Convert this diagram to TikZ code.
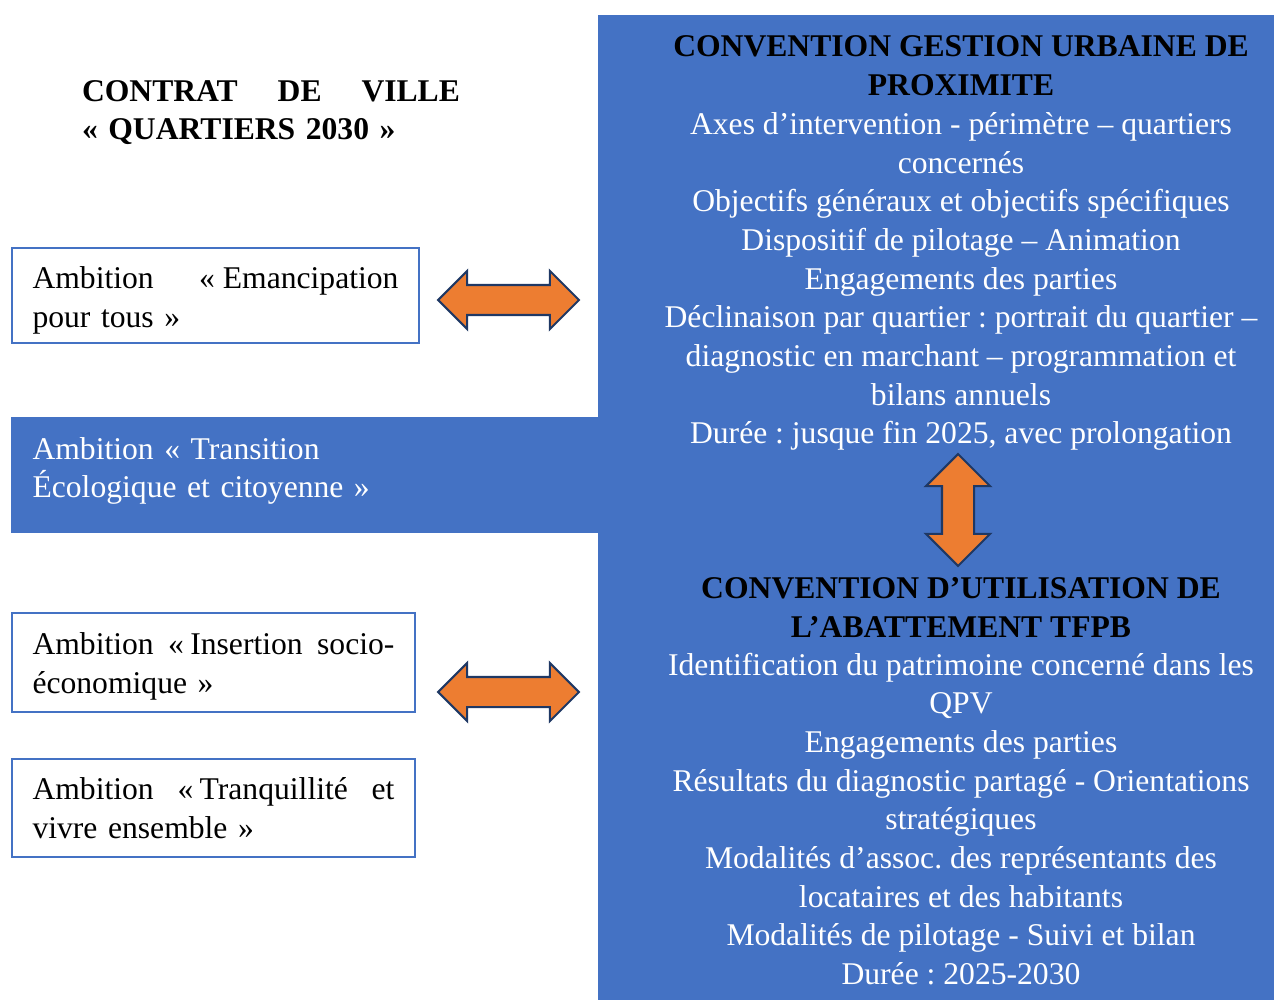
\documentclass[tikz,border=0pt]{standalone}
\usepackage{fontspec}
\setmainfont{Liberation Serif}
\usetikzlibrary{shapes.arrows}
\frenchspacing

\definecolor{accentblue}{HTML}{4472C4}
\definecolor{accentorange}{HTML}{ED7D31}
\definecolor{arrowline}{HTML}{1F3864}

\begin{document}
\begin{tikzpicture}[x=0.02cm, y=-0.02cm,
  every node/.style={font=\fontsize{18}{22}\selectfont},
  ambbox/.style={draw=accentblue, line width=1pt, inner sep=0, align=left},
  ptitle/.style={align=center, font=\fontsize{18}{22}\selectfont\bfseries, text=black},
  pbody/.style={align=center, text=white},
  dblarrow/.style={double arrow, draw=arrowline, fill=accentorange, line width=1.2pt,
    inner xsep=0, double arrow tip angle=90}]
  \useasboundingbox (0,0) rectangle (1274,1000);
  \fill[accentblue] (598,15) rectangle (1274,1000);

  \node[inner sep=0, text width=7.56cm, align=left, font=\fontsize{18}{22}\selectfont\bfseries]
    (contrat) at (271,112.5) {CONTRAT\hfill DE\hfill VILLE\\« QUARTIERS 2030 »};

  \node[ambbox, minimum width=8.14cm, minimum height=1.9cm, text width=7.32cm]
    (emancip) at (215.5,295.5) {\rule{0pt}{18pt}Ambition\hfill«\kern.25em Emancipation\\pour tous »};
  \node[ambbox, fill=accentblue, text=white, minimum width=11.72cm, minimum height=2.28cm, text width=10.9cm]
    (transit) at (305,475) {Ambition « Transition\\Écologique et citoyenne »\rule[-0.3cm]{0pt}{0pt}};
  \node[ambbox, minimum width=8.06cm, minimum height=1.98cm, text width=7.24cm]
    (insert) at (213.5,662.5) {\rule{0pt}{17pt}Ambition\hfill«\kern.2em Insertion\hfill socio-\\économique »};
  \node[ambbox, minimum width=8.06cm, minimum height=1.96cm, text width=7.24cm]
    (tranq) at (213.5,808) {Ambition\hfill«\kern.2em Tranquillité\hfill et\\vivre ensemble »};

  \node[ptitle] (gupt) at (961,66) {CONVENTION GESTION URBAINE DE\\PROXIMITE};
  \node[pbody] (gupb) at (961,281.5) {Axes d’intervention - périmètre – quartiers\\concernés\\
    Objectifs généraux et objectifs spécifiques\\Dispositif de pilotage – Animation\\
    Engagements des parties\\Déclinaison par quartier : portrait du quartier –\\
    diagnostic en marchant – programmation et\\bilans annuels\\
    Durée : jusque fin 2025, avec prolongation};

  \node[ptitle] (tfpbt) at (961,607.5) {CONVENTION D’UTILISATION DE\\L’ABATTEMENT TFPB};
  \node[pbody] (tfpbb) at (961,819) {Identification du patrimoine concerné dans les\\QPV\\
    Engagements des parties\\Résultats du diagnostic partagé - Orientations\\stratégiques\\
    Modalités d’assoc. des représentants des\\locataires et des habitants\\
    Modalités de pilotage - Suivi et bilan\\Durée : 2025-2030};

  \node[dblarrow, inner ysep=0.28cm, minimum height=2.82cm, double arrow head extend=0.28cm]
    (arrowgup) at (508.5,300) {};
  \node[dblarrow, inner ysep=0.28cm, minimum height=2.82cm, double arrow head extend=0.28cm]
    (arrowtfpb) at (508.5,692) {};
  \node[dblarrow, rotate=90, inner ysep=0.3cm, minimum height=2.24cm, double arrow head extend=0.32cm]
    (arrowconv) at (958,510) {};
\end{tikzpicture}
\end{document}
